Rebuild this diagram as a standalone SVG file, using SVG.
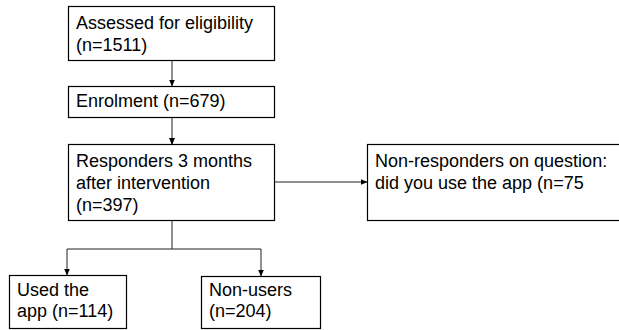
<svg xmlns="http://www.w3.org/2000/svg" width="619" height="330" viewBox="0 0 619 330">
<defs>
<marker id="ah" markerWidth="7" markerHeight="6" refX="6.5" refY="3" orient="auto" markerUnits="userSpaceOnUse">
<path d="M0,0 L7,3 L0,6 Z" fill="#000"/>
</marker>
<style>
.box{fill:#fff;stroke:#000;stroke-width:1.2}
.t{font-family:"Liberation Sans",Arial,sans-serif;font-size:18px;fill:#000}
.c{fill:none;stroke:#222;stroke-width:1}
</style>
</defs>
<rect width="619" height="330" fill="#fff"/>
<g id="connectors">
<path class="c" d="M172,60 V86" marker-end="url(#ah)"/>
<path class="c" d="M172,117 V144.5" marker-end="url(#ah)"/>
<path class="c" d="M274,182 H367" marker-end="url(#ah)"/>
<path class="c" d="M172,221 V249 M67,249 H261"/>
<path class="c" d="M67,249 V275" marker-end="url(#ah)"/>
<path class="c" d="M261,249 V276" marker-end="url(#ah)"/>
</g>
<g id="assessed">
<rect class="box" x="68.5" y="6.5" width="206" height="54"/>
<text class="t" x="76" y="29">Assessed for eligibility</text>
<text class="t" x="76" y="51">(n=1511)</text>
</g>
<g id="enrolment">
<rect class="box" x="68.5" y="86.5" width="206" height="31"/>
<text class="t" x="76" y="107">Enrolment (n=679)</text>
</g>
<g id="responders">
<rect class="box" x="68.5" y="144.5" width="206" height="76"/>
<text class="t" x="76" y="167">Responders 3 months</text>
<text class="t" x="76" y="189">after intervention</text>
<text class="t" x="76" y="211">(n=397)</text>
</g>
<g id="nonresponders">
<rect class="box" x="367.5" y="144.5" width="260" height="76"/>
<text class="t" x="375" y="167">Non-responders on question:</text>
<text class="t" x="375" y="189">did you use the app (n=75</text>
</g>
<g id="used">
<rect class="box" x="9.5" y="275.5" width="117" height="53"/>
<text class="t" x="17" y="296">Used the</text>
<text class="t" x="17" y="317">app (n=114)</text>
</g>
<g id="nonusers">
<rect class="box" x="201.5" y="276.5" width="119" height="52"/>
<text class="t" x="209" y="296">Non-users</text>
<text class="t" x="209" y="317">(n=204)</text>
</g>
</svg>
